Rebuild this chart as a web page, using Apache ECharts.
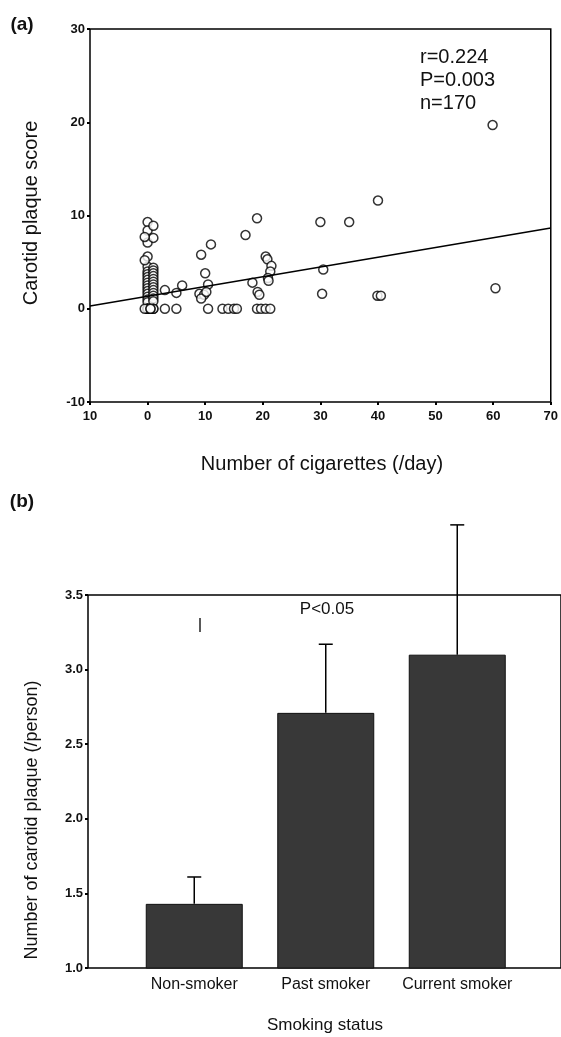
<!DOCTYPE html>
<html>
<head>
<meta charset="utf-8">
<script src="https://cdn.jsdelivr.net/npm/echarts@6/dist/echarts.min.js"></script>
<style>
  html, body { margin: 0; padding: 0; background: #fff; }
  #main { width: 561px; height: 1037px; }
</style>
</head>
<body>
<div id="main"></div>
<script>
(function () {
  let myChart = echarts.init(document.getElementById('main'));
  let fontFam = '"Liberation Sans", Arial, sans-serif';

  // (a) 散点: 每日吸烟数 vs 斑块评分
  let cigarettes = [
    0, 0, 0, 0, 0, 0, 0, 0, 0, 0, 0, 0, 0, 0, 0, 0, 0, 0, 0, 0, 0,
    1, 1, 1, 1, 1, 1, 1, 1, 1, 1, 1, 1, 1, 1, 1, 1, 1,
    -0.5, -0.5, -0.5, 0.5, 0.5,
    3, 5, 10.5, 13, 14, 15, 15.5, 19, 19.7, 20.5, 21.3,
    3, 5, 6, 9.3, 11, 10, 10.5, 9, 9.8, 9.3, 10.2,
    17, 19, 18.2, 19.1, 19.4, 20.5, 20.8, 21.5, 21.3, 20.9, 21,
    40, 30, 35, 30.5, 30.3, 39.9, 40.5, 60.4, 59.9
  ];
  let plaqueScore = [
    9.3, 8.4, 7.1, 5.6, 4.5, 4.0, 3.7, 3.4, 3.1, 2.8, 2.5, 2.2, 1.9, 1.6, 1.3, 1.0, 0.7, 0, 0, 0, 0,
    8.9, 7.6, 4.4, 4.1, 3.8, 3.5, 3.2, 2.9, 2.6, 2.3, 2.0, 1.7, 1.4, 1.1, 0.8, 0, 0,
    7.7, 5.2, 0, 0, 0,
    0, 0, 0, 0, 0, 0, 0, 0, 0, 0, 0,
    2.0, 1.7, 2.5, 5.8, 6.9, 3.8, 2.6, 1.6, 1.5, 1.1, 1.8,
    7.9, 9.7, 2.8, 1.8, 1.5, 5.6, 5.3, 4.6, 4.0, 3.3, 3.0,
    11.6, 9.3, 9.3, 4.2, 1.6, 1.4, 1.4, 2.2, 19.7
  ];
  let fitLine = [[-10, 0.3], [70, 8.65]]; // 回归线两端
  let xTickLabels = ['10', '0', '10', '20', '30', '40', '50', '60', '70'];
  let statsText = ['r=0.224', 'P=0.003', 'n=170'];

  // (b) 柱状图
  let categories = ['Non-smoker', 'Past smoker', 'Current smoker'];
  let barMeans = [1.43, 2.71, 3.10];
  let barUpper = [1.61, 3.17, 3.97];

  let scatterData = cigarettes.map((x, i) => [x, plaqueScore[i]]);
  let errData = categories.map((c, i) => [i, barMeans[i], barUpper[i]]);

  function renderErrorBar(params, api) {
    let base = api.coord([api.value(0), api.value(1)]);
    let tip = api.coord([api.value(0), api.value(2)]);
    let half = 7;
    return {
      type: 'group',
      children: [
        { type: 'line', shape: { x1: base[0], y1: base[1], x2: tip[0], y2: tip[1] }, style: { stroke: '#000', lineWidth: 1.5 } },
        { type: 'line', shape: { x1: tip[0] - half, y1: tip[1], x2: tip[0] + half, y2: tip[1] }, style: { stroke: '#000', lineWidth: 1.5 } }
      ]
    };
  }

  function txt(text, x, y, size, opts) {
    opts = opts || {};
    return {
      type: 'text',
      x: x,
      y: y,
      rotation: opts.rotation || 0,
      style: {
        text: text,
        font: (opts.weight || 'normal') + ' ' + size + 'px ' + fontFam,
        fill: '#111',
        align: opts.align || 'center',
        verticalAlign: 'middle',
        textAlign: opts.align || 'center',
        textVerticalAlign: 'middle'
      }
    };
  }

  let tickLabel = { color: '#111', fontSize: 13, fontWeight: 'bold', fontFamily: fontFam };
  let outTick = { show: true, inside: false, length: 3, lineStyle: { color: '#000', width: 2 } };

  let option = {
    animation: false,
    backgroundColor: '#fff',
    grid: [
      { left: 90, top: 29, width: 463, height: 373, show: true, borderColor: '#000', borderWidth: 1.5 },
      { left: 88, top: 595, right: -10, height: 373, show: true, borderColor: '#000', borderWidth: 1.5 },
      { left: 128.5, top: 595, width: 394.5, height: 373 }
    ],
    xAxis: [
      {
        gridIndex: 0, type: 'value', min: -10, max: 70, interval: 10,
        axisLine: { show: false, onZero: false },
        axisTick: outTick,
        splitLine: { show: false },
        axisLabel: Object.assign({ margin: 8, formatter: (v, i) => xTickLabels[i] }, tickLabel)
      },
      { gridIndex: 1, type: 'value', min: 0, max: 1, show: false },
      {
        gridIndex: 2, type: 'category', data: categories,
        axisLine: { show: false, onZero: false }, axisTick: { show: false },
        axisLabel: { interval: 0, margin: 9, color: '#111', fontSize: 16, fontFamily: fontFam }
      }
    ],
    yAxis: [
      {
        gridIndex: 0, type: 'value', min: -10, max: 30, interval: 10,
        axisLine: { show: false, onZero: false },
        axisTick: outTick,
        splitLine: { show: false },
        axisLabel: Object.assign({ margin: 5 }, tickLabel)
      },
      {
        gridIndex: 1, type: 'value', min: 1.0, max: 3.5, interval: 0.5,
        axisLine: { show: false, onZero: false },
        axisTick: outTick,
        splitLine: { show: false },
        axisLabel: Object.assign({ margin: 5, formatter: v => v.toFixed(1) }, tickLabel)
      },
      { gridIndex: 2, type: 'value', min: 1.0, max: 3.5, interval: 0.5, show: false }
    ],
    series: [
      {
        type: 'scatter', xAxisIndex: 0, yAxisIndex: 0,
        data: scatterData,
        symbol: 'circle', symbolSize: 9,
        itemStyle: { color: '#fff', borderColor: '#000', borderWidth: 1.5 },
        z: 3
      },
      {
        type: 'line', xAxisIndex: 0, yAxisIndex: 0,
        data: fitLine, showSymbol: false, symbol: 'none',
        lineStyle: { color: '#000', width: 1.5 },
        z: 4
      },
      {
        type: 'bar', xAxisIndex: 2, yAxisIndex: 2,
        data: barMeans, barWidth: 97,
        itemStyle: { color: '#383838', borderColor: '#111', borderWidth: 1 }
      },
      {
        type: 'custom', xAxisIndex: 2, yAxisIndex: 2,
        data: errData, renderItem: renderErrorBar, z: 5
      }
    ],
    graphic: [
      txt('(a)', 22, 25, 19, { weight: 'bold' }),
      txt('(b)', 22, 502, 19, { weight: 'bold' }),
      txt('Carotid plaque score', 31, 213, 20, { rotation: Math.PI / 2 }),
      txt('Number of cigarettes (/day)', 322, 464, 20),
      txt(statsText[0], 420, 57, 20, { align: 'left' }),
      txt(statsText[1], 420, 80, 20, { align: 'left' }),
      txt(statsText[2], 420, 103, 20, { align: 'left' }),
      txt('Number of carotid plaque (/person)', 32, 820, 18, { rotation: Math.PI / 2 }),
      txt('Smoking status', 325, 1025, 17),
      txt('P<0.05', 327, 609, 17),
      { type: 'line', shape: { x1: 200, y1: 618, x2: 200, y2: 632 }, style: { stroke: '#222', lineWidth: 1.5 } }
    ]
  };
  myChart.setOption(option);
})();
</script>
</body>
</html>
